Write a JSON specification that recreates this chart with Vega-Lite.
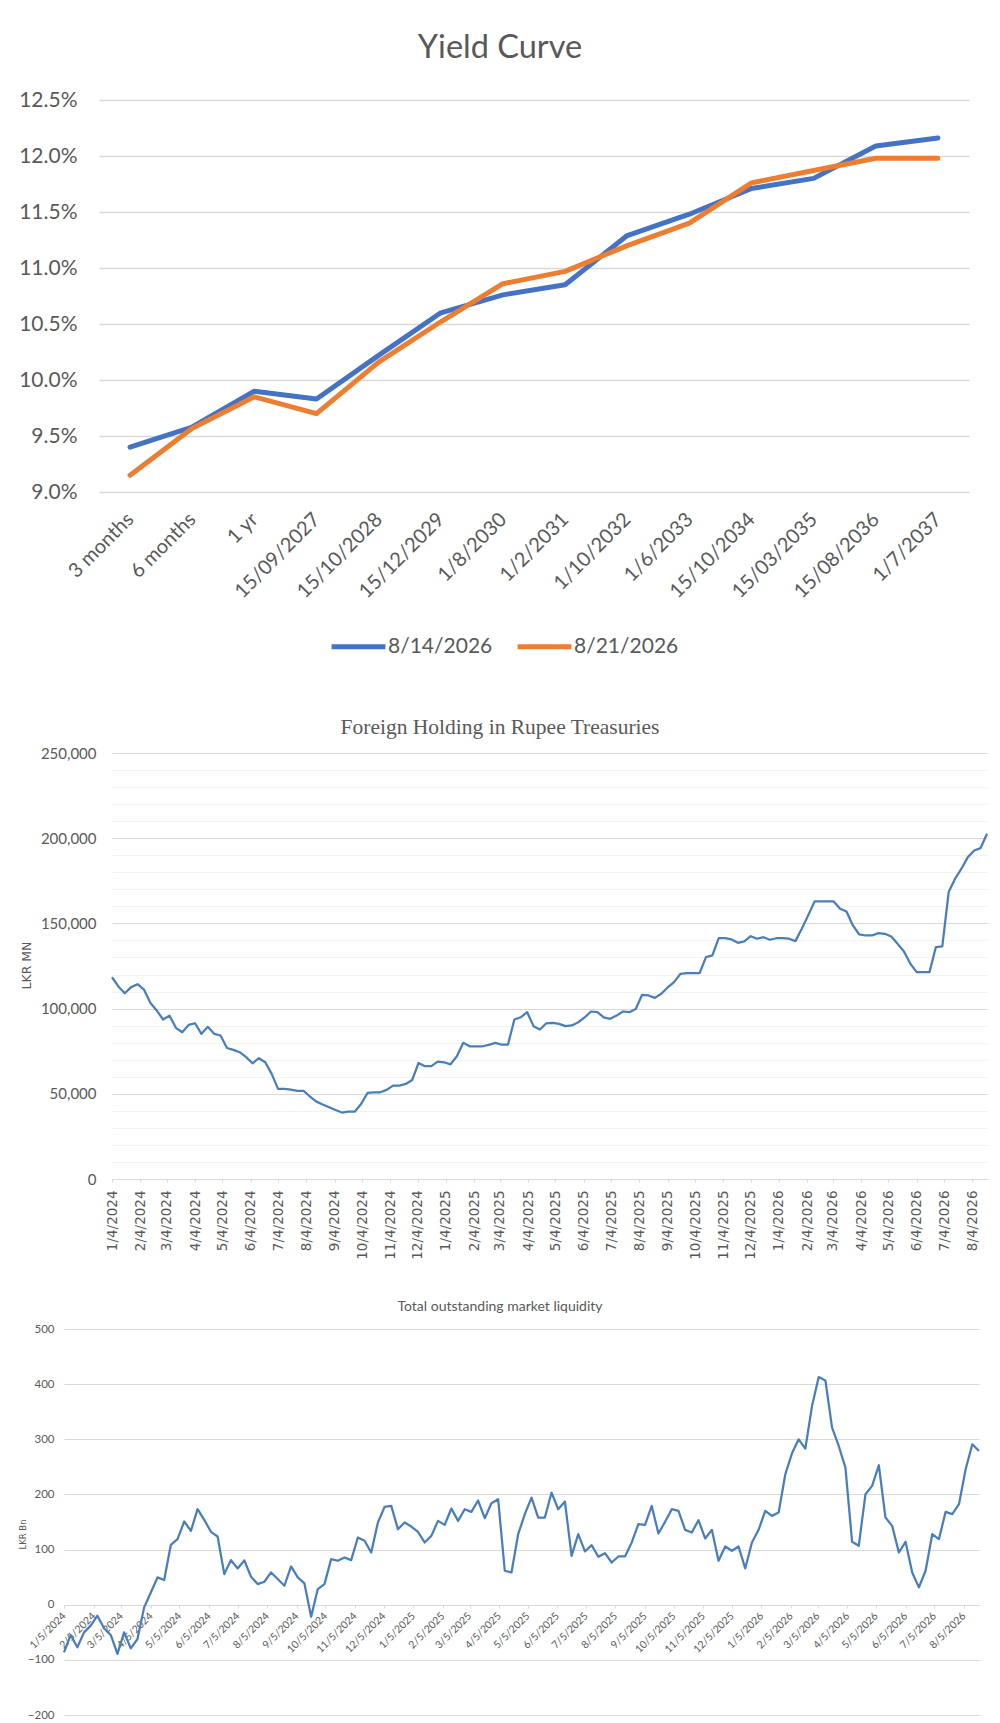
{
  "$schema": "https://vega.github.io/schema/vega-lite/v6.json",
  "background": "white",
  "padding": {"left": 0, "top": 31, "right": 0, "bottom": 0},
  "config": {
    "view": {"stroke": null},
    "axis": {"labelFont": "Lato", "titleFont": "Lato", "labelColor": "#595959", "titleColor": "#595959"},
    "title": {"font": "Lato", "color": "#595959", "fontWeight": "normal"},
    "legend": {"labelFont": "Lato", "labelColor": "#595959"}
  },
  "datasets": {
    "yield": [
      {"tenor": "3 months", "series": "8/14/2026", "rate": 9.40},
      {"tenor": "6 months", "series": "8/14/2026", "rate": 9.58},
      {"tenor": "1 yr", "series": "8/14/2026", "rate": 9.90},
      {"tenor": "15/09/2027", "series": "8/14/2026", "rate": 9.83},
      {"tenor": "15/10/2028", "series": "8/14/2026", "rate": 10.22},
      {"tenor": "15/12/2029", "series": "8/14/2026", "rate": 10.60},
      {"tenor": "1/8/2030", "series": "8/14/2026", "rate": 10.76},
      {"tenor": "1/2/2031", "series": "8/14/2026", "rate": 10.85},
      {"tenor": "1/10/2032", "series": "8/14/2026", "rate": 11.29},
      {"tenor": "1/6/2033", "series": "8/14/2026", "rate": 11.48},
      {"tenor": "15/10/2034", "series": "8/14/2026", "rate": 11.71},
      {"tenor": "15/03/2035", "series": "8/14/2026", "rate": 11.80},
      {"tenor": "15/08/2036", "series": "8/14/2026", "rate": 12.09},
      {"tenor": "1/7/2037", "series": "8/14/2026", "rate": 12.16},
      {"tenor": "3 months", "series": "8/21/2026", "rate": 9.15},
      {"tenor": "6 months", "series": "8/21/2026", "rate": 9.57},
      {"tenor": "1 yr", "series": "8/21/2026", "rate": 9.85},
      {"tenor": "15/09/2027", "series": "8/21/2026", "rate": 9.70},
      {"tenor": "15/10/2028", "series": "8/21/2026", "rate": 10.16},
      {"tenor": "15/12/2029", "series": "8/21/2026", "rate": 10.52},
      {"tenor": "1/8/2030", "series": "8/21/2026", "rate": 10.86},
      {"tenor": "1/2/2031", "series": "8/21/2026", "rate": 10.97},
      {"tenor": "1/10/2032", "series": "8/21/2026", "rate": 11.20},
      {"tenor": "1/6/2033", "series": "8/21/2026", "rate": 11.40},
      {"tenor": "15/10/2034", "series": "8/21/2026", "rate": 11.76},
      {"tenor": "15/03/2035", "series": "8/21/2026", "rate": 11.87},
      {"tenor": "15/08/2036", "series": "8/21/2026", "rate": 11.98},
      {"tenor": "1/7/2037", "series": "8/21/2026", "rate": 11.98}
    ],
    "foreign": [
      {"date": "2024-01-04", "value": 118400}, {"date": "2024-01-11", "value": 113000}, {"date": "2024-01-18", "value": 109000}, {"date": "2024-01-25", "value": 112600},
      {"date": "2024-02-01", "value": 114300}, {"date": "2024-02-08", "value": 111200}, {"date": "2024-02-15", "value": 103400}, {"date": "2024-02-22", "value": 98900}, {"date": "2024-02-29", "value": 93600},
      {"date": "2024-03-07", "value": 95900}, {"date": "2024-03-14", "value": 88700}, {"date": "2024-03-21", "value": 86100}, {"date": "2024-03-28", "value": 90400},
      {"date": "2024-04-04", "value": 91400}, {"date": "2024-04-11", "value": 85200}, {"date": "2024-04-18", "value": 89300}, {"date": "2024-04-25", "value": 85200},
      {"date": "2024-05-02", "value": 84200}, {"date": "2024-05-09", "value": 76900}, {"date": "2024-05-16", "value": 75800}, {"date": "2024-05-23", "value": 74400}, {"date": "2024-05-30", "value": 71500},
      {"date": "2024-06-06", "value": 67900}, {"date": "2024-06-13", "value": 70900}, {"date": "2024-06-20", "value": 68500}, {"date": "2024-06-27", "value": 61700},
      {"date": "2024-07-04", "value": 52900}, {"date": "2024-07-11", "value": 52900}, {"date": "2024-07-18", "value": 52500}, {"date": "2024-07-25", "value": 51700},
      {"date": "2024-08-01", "value": 51700}, {"date": "2024-08-08", "value": 48400}, {"date": "2024-08-15", "value": 45400}, {"date": "2024-08-22", "value": 43700}, {"date": "2024-08-29", "value": 42100},
      {"date": "2024-09-05", "value": 40500}, {"date": "2024-09-12", "value": 39000}, {"date": "2024-09-19", "value": 39500}, {"date": "2024-09-26", "value": 39500},
      {"date": "2024-10-03", "value": 44000}, {"date": "2024-10-10", "value": 50500}, {"date": "2024-10-17", "value": 50900}, {"date": "2024-10-24", "value": 50900}, {"date": "2024-10-31", "value": 52300},
      {"date": "2024-11-07", "value": 54800}, {"date": "2024-11-14", "value": 54800}, {"date": "2024-11-21", "value": 55800}, {"date": "2024-11-28", "value": 58100},
      {"date": "2024-12-05", "value": 68100}, {"date": "2024-12-12", "value": 66200}, {"date": "2024-12-19", "value": 66200}, {"date": "2024-12-26", "value": 68900},
      {"date": "2025-01-02", "value": 68500}, {"date": "2025-01-09", "value": 67300}, {"date": "2025-01-16", "value": 72000}, {"date": "2025-01-23", "value": 79900}, {"date": "2025-01-30", "value": 77900},
      {"date": "2025-02-06", "value": 77900}, {"date": "2025-02-13", "value": 77900}, {"date": "2025-02-20", "value": 78700}, {"date": "2025-02-27", "value": 79900},
      {"date": "2025-03-06", "value": 78900}, {"date": "2025-03-13", "value": 78900}, {"date": "2025-03-20", "value": 93600}, {"date": "2025-03-27", "value": 94900},
      {"date": "2025-04-03", "value": 97900}, {"date": "2025-04-10", "value": 89700}, {"date": "2025-04-17", "value": 87700}, {"date": "2025-04-24", "value": 91400},
      {"date": "2025-05-01", "value": 91600}, {"date": "2025-05-08", "value": 91000}, {"date": "2025-05-15", "value": 89700}, {"date": "2025-05-22", "value": 90100}, {"date": "2025-05-29", "value": 92000},
      {"date": "2025-06-05", "value": 94800}, {"date": "2025-06-12", "value": 98300}, {"date": "2025-06-19", "value": 97900}, {"date": "2025-06-26", "value": 94900},
      {"date": "2025-07-03", "value": 94000}, {"date": "2025-07-10", "value": 95900}, {"date": "2025-07-17", "value": 98300}, {"date": "2025-07-24", "value": 97900}, {"date": "2025-07-31", "value": 99800},
      {"date": "2025-08-07", "value": 108100}, {"date": "2025-08-14", "value": 107700}, {"date": "2025-08-21", "value": 106300}, {"date": "2025-08-28", "value": 108700},
      {"date": "2025-09-04", "value": 112400}, {"date": "2025-09-11", "value": 115500}, {"date": "2025-09-18", "value": 120400}, {"date": "2025-09-25", "value": 120800},
      {"date": "2025-10-02", "value": 120800}, {"date": "2025-10-09", "value": 120800}, {"date": "2025-10-16", "value": 130200}, {"date": "2025-10-23", "value": 131200}, {"date": "2025-10-30", "value": 141300},
      {"date": "2025-11-06", "value": 141300}, {"date": "2025-11-13", "value": 140600}, {"date": "2025-11-20", "value": 138600}, {"date": "2025-11-27", "value": 139400},
      {"date": "2025-12-04", "value": 142500}, {"date": "2025-12-11", "value": 141000}, {"date": "2025-12-18", "value": 141900}, {"date": "2025-12-25", "value": 140400},
      {"date": "2026-01-01", "value": 141300}, {"date": "2026-01-08", "value": 141300}, {"date": "2026-01-15", "value": 141000}, {"date": "2026-01-22", "value": 139600}, {"date": "2026-01-29", "value": 146800},
      {"date": "2026-02-05", "value": 154700}, {"date": "2026-02-12", "value": 162900}, {"date": "2026-02-19", "value": 162900}, {"date": "2026-02-26", "value": 162900},
      {"date": "2026-03-05", "value": 162900}, {"date": "2026-03-12", "value": 158600}, {"date": "2026-03-19", "value": 157000}, {"date": "2026-03-26", "value": 148800},
      {"date": "2026-04-02", "value": 143500}, {"date": "2026-04-09", "value": 142900}, {"date": "2026-04-16", "value": 142900}, {"date": "2026-04-23", "value": 144300}, {"date": "2026-04-30", "value": 143900},
      {"date": "2026-05-07", "value": 142300}, {"date": "2026-05-14", "value": 138000}, {"date": "2026-05-21", "value": 133500}, {"date": "2026-05-28", "value": 126300},
      {"date": "2026-06-04", "value": 121400}, {"date": "2026-06-11", "value": 121400}, {"date": "2026-06-18", "value": 121400}, {"date": "2026-06-25", "value": 136100},
      {"date": "2026-07-02", "value": 136500}, {"date": "2026-07-09", "value": 168400}, {"date": "2026-07-16", "value": 176200}, {"date": "2026-07-23", "value": 182100}, {"date": "2026-07-30", "value": 188900},
      {"date": "2026-08-06", "value": 192800}, {"date": "2026-08-13", "value": 194200}, {"date": "2026-08-20", "value": 202600}
    ],
    "liquidity": [
      {"date": "2024-01-05", "value": -86.3}, {"date": "2024-01-12", "value": -54.9}, {"date": "2024-01-19", "value": -77.2}, {"date": "2024-01-26", "value": -50.1},
      {"date": "2024-02-02", "value": -38.0}, {"date": "2024-02-09", "value": -19.9}, {"date": "2024-02-16", "value": -42.8}, {"date": "2024-02-23", "value": -54.9},
      {"date": "2024-03-01", "value": -89.3}, {"date": "2024-03-08", "value": -50.1}, {"date": "2024-03-15", "value": -79.1}, {"date": "2024-03-22", "value": -62.2}, {"date": "2024-03-29", "value": -4.8},
      {"date": "2024-04-05", "value": 22.3}, {"date": "2024-04-12", "value": 49.5}, {"date": "2024-04-19", "value": 44.7}, {"date": "2024-04-26", "value": 108.6},
      {"date": "2024-05-03", "value": 118.9}, {"date": "2024-05-10", "value": 150.9}, {"date": "2024-05-17", "value": 134.0}, {"date": "2024-05-24", "value": 173.2}, {"date": "2024-05-31", "value": 153.9},
      {"date": "2024-06-07", "value": 132.2}, {"date": "2024-06-14", "value": 123.7}, {"date": "2024-06-21", "value": 55.5}, {"date": "2024-06-28", "value": 80.9},
      {"date": "2024-07-05", "value": 65.8}, {"date": "2024-07-12", "value": 80.3}, {"date": "2024-07-19", "value": 50.7}, {"date": "2024-07-26", "value": 37.4},
      {"date": "2024-08-02", "value": 41.6}, {"date": "2024-08-09", "value": 58.5}, {"date": "2024-08-16", "value": 46.5}, {"date": "2024-08-23", "value": 34.4}, {"date": "2024-08-30", "value": 69.4},
      {"date": "2024-09-06", "value": 49.5}, {"date": "2024-09-13", "value": 38.6}, {"date": "2024-09-20", "value": -21.7}, {"date": "2024-09-27", "value": 28.4},
      {"date": "2024-10-04", "value": 37.4}, {"date": "2024-10-11", "value": 82.7}, {"date": "2024-10-18", "value": 79.7}, {"date": "2024-10-25", "value": 85.7},
      {"date": "2024-11-01", "value": 80.9}, {"date": "2024-11-08", "value": 121.9}, {"date": "2024-11-15", "value": 115.9}, {"date": "2024-11-22", "value": 94.7}, {"date": "2024-11-29", "value": 149.1},
      {"date": "2024-12-06", "value": 177.4}, {"date": "2024-12-13", "value": 179.2}, {"date": "2024-12-20", "value": 137.0}, {"date": "2024-12-27", "value": 149.1},
      {"date": "2025-01-03", "value": 141.8}, {"date": "2025-01-10", "value": 132.2}, {"date": "2025-01-17", "value": 112.9}, {"date": "2025-01-24", "value": 124.9}, {"date": "2025-01-31", "value": 152.1},
      {"date": "2025-02-07", "value": 144.8}, {"date": "2025-02-14", "value": 174.4}, {"date": "2025-02-21", "value": 152.1}, {"date": "2025-02-28", "value": 173.2},
      {"date": "2025-03-07", "value": 168.4}, {"date": "2025-03-14", "value": 188.9}, {"date": "2025-03-21", "value": 156.9}, {"date": "2025-03-28", "value": 184.1},
      {"date": "2025-04-04", "value": 191.3}, {"date": "2025-04-11", "value": 61.6}, {"date": "2025-04-18", "value": 58.5}, {"date": "2025-04-25", "value": 127.9},
      {"date": "2025-05-02", "value": 164.2}, {"date": "2025-05-09", "value": 194.3}, {"date": "2025-05-16", "value": 158.1}, {"date": "2025-05-23", "value": 158.1}, {"date": "2025-05-30", "value": 203.4},
      {"date": "2025-06-06", "value": 173.2}, {"date": "2025-06-13", "value": 187.1}, {"date": "2025-06-20", "value": 88.7}, {"date": "2025-06-27", "value": 127.9},
      {"date": "2025-07-04", "value": 96.6}, {"date": "2025-07-11", "value": 108.0}, {"date": "2025-07-18", "value": 86.9}, {"date": "2025-07-25", "value": 93.5},
      {"date": "2025-08-01", "value": 76.6}, {"date": "2025-08-08", "value": 87.5}, {"date": "2025-08-15", "value": 87.5}, {"date": "2025-08-22", "value": 112.9}, {"date": "2025-08-29", "value": 146.0},
      {"date": "2025-09-05", "value": 144.8}, {"date": "2025-09-12", "value": 179.2}, {"date": "2025-09-19", "value": 129.1}, {"date": "2025-09-26", "value": 150.3},
      {"date": "2025-10-03", "value": 173.2}, {"date": "2025-10-10", "value": 170.2}, {"date": "2025-10-17", "value": 135.8}, {"date": "2025-10-24", "value": 131.0}, {"date": "2025-10-31", "value": 153.3},
      {"date": "2025-11-07", "value": 120.1}, {"date": "2025-11-14", "value": 135.8}, {"date": "2025-11-21", "value": 79.7}, {"date": "2025-11-28", "value": 105.6},
      {"date": "2025-12-05", "value": 97.8}, {"date": "2025-12-12", "value": 105.6}, {"date": "2025-12-19", "value": 65.8}, {"date": "2025-12-26", "value": 112.9},
      {"date": "2026-01-02", "value": 135.8}, {"date": "2026-01-09", "value": 170.2}, {"date": "2026-01-16", "value": 161.1}, {"date": "2026-01-23", "value": 167.2}, {"date": "2026-01-30", "value": 236.6},
      {"date": "2026-02-06", "value": 274.6}, {"date": "2026-02-13", "value": 299.9}, {"date": "2026-02-20", "value": 283.0}, {"date": "2026-02-27", "value": 360.3},
      {"date": "2026-03-06", "value": 412.8}, {"date": "2026-03-13", "value": 406.8}, {"date": "2026-03-20", "value": 321.1}, {"date": "2026-03-27", "value": 287.9},
      {"date": "2026-04-03", "value": 248.6}, {"date": "2026-04-10", "value": 114.1}, {"date": "2026-04-17", "value": 106.8}, {"date": "2026-04-24", "value": 200.4},
      {"date": "2026-05-01", "value": 215.5}, {"date": "2026-05-08", "value": 252.9}, {"date": "2026-05-15", "value": 158.1}, {"date": "2026-05-22", "value": 143.0}, {"date": "2026-05-29", "value": 94.7},
      {"date": "2026-06-05", "value": 114.1}, {"date": "2026-06-12", "value": 58.5}, {"date": "2026-06-19", "value": 31.4}, {"date": "2026-06-26", "value": 61.6},
      {"date": "2026-07-03", "value": 127.9}, {"date": "2026-07-10", "value": 118.9}, {"date": "2026-07-17", "value": 168.4}, {"date": "2026-07-24", "value": 164.2}, {"date": "2026-07-31", "value": 182.3},
      {"date": "2026-08-07", "value": 245.6}, {"date": "2026-08-14", "value": 290.9}, {"date": "2026-08-21", "value": 278.8}
    ]
  },
  "vconcat": [
    {
      "spacing": 0,
      "hconcat": [
        {"width": 1, "height": 1, "data": {"values": []}, "mark": "point", "encoding": {}},
        {
          "width": 870,
          "height": 392,
          "data": {"name": "yield"},
          "title": {"text": "Yield Curve", "fontSize": 32.5, "offset": 25, "frame": "group", "dx": -34},
          "mark": {"type": "line", "strokeWidth": 5, "strokeCap": "round", "strokeJoin": "round"},
          "encoding": {
            "x": {
              "field": "tenor", "type": "nominal",
              "sort": ["3 months", "6 months", "1 yr", "15/09/2027", "15/10/2028", "15/12/2029", "1/8/2030", "1/2/2031", "1/10/2032", "1/6/2033", "15/10/2034", "15/03/2035", "15/08/2036", "1/7/2037"],
              "scale": {"type": "point", "padding": 0.5},
              "axis": {"title": null, "labelAngle": -45, "labelAlign": "right", "labelBaseline": "middle", "labelFontSize": 20, "labelPadding": 24, "domain": false, "ticks": false, "grid": false, "labelOverlap": false, "minExtent": 184, "maxExtent": 184}
            },
            "y": {
              "field": "rate", "type": "quantitative",
              "scale": {"domain": [9, 12.5], "nice": false, "zero": false},
              "axis": {"title": null, "values": [9, 9.5, 10, 10.5, 11, 11.5, 12, 12.5], "labelExpr": "format(datum.value, '.1f') + '%'", "labelFontSize": 21, "labelPadding": 22, "domain": false, "ticks": false, "gridColor": "#D9D9D9", "gridWidth": 1.5, "minExtent": 98, "maxExtent": 98}
            },
            "color": {
              "field": "series", "type": "nominal",
              "scale": {"domain": ["8/14/2026", "8/21/2026"], "range": ["#4472C4", "#ED7D31"]},
              "legend": {"title": null, "orient": "none", "legendX": 329, "legendY": 517, "direction": "horizontal", "padding": 0, "symbolType": "stroke", "symbolSize": 2900, "symbolStrokeWidth": 5, "labelFontSize": 21, "labelOffset": 0, "columnPadding": 14}
            }
          }
        }
      ]
    },
    {
      "spacing": 0,
      "hconcat": [
        {"width": 1, "height": 1, "data": {"values": []}, "mark": "point", "encoding": {}},
        {
          "width": 875,
          "height": 426,
          "data": {"name": "foreign"},
          "title": {"text": "Foreign Holding in Rupee Treasuries", "font": "Liberation Serif", "fontSize": 21.5, "offset": 8, "frame": "group", "dx": -49.5},
          "mark": {"type": "line", "strokeWidth": 2.25, "color": "#4A7EBB", "strokeJoin": "round"},
          "encoding": {
            "x": {
              "field": "date", "type": "temporal",
              "scale": {"type": "utc", "nice": false, "domain": [{"year": 2024, "month": 1, "date": 4, "utc": true}, {"year": 2026, "month": 8, "date": 20, "utc": true}]},
              "axis": {
                "title": null,
                "values": [
                  {"year": 2024, "month": 1, "date": 4, "utc": true}, {"year": 2024, "month": 2, "date": 4, "utc": true}, {"year": 2024, "month": 3, "date": 4, "utc": true}, {"year": 2024, "month": 4, "date": 4, "utc": true},
                  {"year": 2024, "month": 5, "date": 4, "utc": true}, {"year": 2024, "month": 6, "date": 4, "utc": true}, {"year": 2024, "month": 7, "date": 4, "utc": true}, {"year": 2024, "month": 8, "date": 4, "utc": true},
                  {"year": 2024, "month": 9, "date": 4, "utc": true}, {"year": 2024, "month": 10, "date": 4, "utc": true}, {"year": 2024, "month": 11, "date": 4, "utc": true}, {"year": 2024, "month": 12, "date": 4, "utc": true},
                  {"year": 2025, "month": 1, "date": 4, "utc": true}, {"year": 2025, "month": 2, "date": 4, "utc": true}, {"year": 2025, "month": 3, "date": 4, "utc": true}, {"year": 2025, "month": 4, "date": 4, "utc": true},
                  {"year": 2025, "month": 5, "date": 4, "utc": true}, {"year": 2025, "month": 6, "date": 4, "utc": true}, {"year": 2025, "month": 7, "date": 4, "utc": true}, {"year": 2025, "month": 8, "date": 4, "utc": true},
                  {"year": 2025, "month": 9, "date": 4, "utc": true}, {"year": 2025, "month": 10, "date": 4, "utc": true}, {"year": 2025, "month": 11, "date": 4, "utc": true}, {"year": 2025, "month": 12, "date": 4, "utc": true},
                  {"year": 2026, "month": 1, "date": 4, "utc": true}, {"year": 2026, "month": 2, "date": 4, "utc": true}, {"year": 2026, "month": 3, "date": 4, "utc": true}, {"year": 2026, "month": 4, "date": 4, "utc": true},
                  {"year": 2026, "month": 5, "date": 4, "utc": true}, {"year": 2026, "month": 6, "date": 4, "utc": true}, {"year": 2026, "month": 7, "date": 4, "utc": true}, {"year": 2026, "month": 8, "date": 4, "utc": true}
                ],
                "labelExpr": "utcFormat(datum.value, '%-m/%-d/%Y')",
                "labelAngle": -90, "labelAlign": "right", "labelBaseline": "middle",
                "labelFont": "DejaVu Sans", "labelFontSize": 13.5, "labelPadding": 8,
                "domainColor": "#D9D9D9", "tickColor": "#D9D9D9", "tickSize": 3,
                "grid": false, "labelOverlap": false, "labelFlush": false, "labelBound": false,
                "minExtent": 81, "maxExtent": 81
              }
            },
            "y": {
              "field": "value", "type": "quantitative",
              "scale": {"domain": [0, 250000], "nice": false},
              "axis": {
                "title": "LKR MN", "titleFont": "DejaVu Sans", "titleFontSize": 12.5, "titleFontWeight": "normal",
                "titleX": -86, "titleY": 212, "titleAngle": -90, "titleAlign": "center", "titleBaseline": "middle",
                "values": [0, 10000, 20000, 30000, 40000, 50000, 60000, 70000, 80000, 90000, 100000, 110000, 120000, 130000, 140000, 150000, 160000, 170000, 180000, 190000, 200000, 210000, 220000, 230000, 240000, 250000],
                "labelExpr": "datum.value % 50000 === 0 ? format(datum.value, ',') : ''",
                "labelFontSize": 15, "labelPadding": 16, "domain": false, "ticks": false,
                "gridColor": {"condition": {"test": "datum.value % 50000 === 0", "value": "#D9D9D9"}, "value": "#F2F2F2"},
                "minExtent": 111, "maxExtent": 111
              }
            }
          }
        }
      ]
    },
    {
      "spacing": 0,
      "hconcat": [
        {"width": 1, "height": 1, "data": {"values": []}, "mark": "point", "encoding": {}},
        {
          "width": 915,
          "height": 386,
          "data": {"name": "liquidity"},
          "title": {"text": "Total outstanding market liquidity", "fontSize": 14, "offset": 9, "frame": "group", "dx": -21.5},
          "mark": {"type": "line", "strokeWidth": 2.25, "color": "#4A7EBB", "strokeJoin": "round"},
          "encoding": {
            "x": {
              "field": "date", "type": "temporal",
              "scale": {"type": "utc", "nice": false, "domain": [{"year": 2024, "month": 1, "date": 5, "utc": true}, {"year": 2026, "month": 8, "date": 21, "utc": true}]},
              "axis": {
                "title": null,
                "values": [
                  {"year": 2024, "month": 1, "date": 5, "utc": true}, {"year": 2024, "month": 2, "date": 5, "utc": true}, {"year": 2024, "month": 3, "date": 5, "utc": true}, {"year": 2024, "month": 4, "date": 5, "utc": true},
                  {"year": 2024, "month": 5, "date": 5, "utc": true}, {"year": 2024, "month": 6, "date": 5, "utc": true}, {"year": 2024, "month": 7, "date": 5, "utc": true}, {"year": 2024, "month": 8, "date": 5, "utc": true},
                  {"year": 2024, "month": 9, "date": 5, "utc": true}, {"year": 2024, "month": 10, "date": 5, "utc": true}, {"year": 2024, "month": 11, "date": 5, "utc": true}, {"year": 2024, "month": 12, "date": 5, "utc": true},
                  {"year": 2025, "month": 1, "date": 5, "utc": true}, {"year": 2025, "month": 2, "date": 5, "utc": true}, {"year": 2025, "month": 3, "date": 5, "utc": true}, {"year": 2025, "month": 4, "date": 5, "utc": true},
                  {"year": 2025, "month": 5, "date": 5, "utc": true}, {"year": 2025, "month": 6, "date": 5, "utc": true}, {"year": 2025, "month": 7, "date": 5, "utc": true}, {"year": 2025, "month": 8, "date": 5, "utc": true},
                  {"year": 2025, "month": 9, "date": 5, "utc": true}, {"year": 2025, "month": 10, "date": 5, "utc": true}, {"year": 2025, "month": 11, "date": 5, "utc": true}, {"year": 2025, "month": 12, "date": 5, "utc": true},
                  {"year": 2026, "month": 1, "date": 5, "utc": true}, {"year": 2026, "month": 2, "date": 5, "utc": true}, {"year": 2026, "month": 3, "date": 5, "utc": true}, {"year": 2026, "month": 4, "date": 5, "utc": true},
                  {"year": 2026, "month": 5, "date": 5, "utc": true}, {"year": 2026, "month": 6, "date": 5, "utc": true}, {"year": 2026, "month": 7, "date": 5, "utc": true}, {"year": 2026, "month": 8, "date": 5, "utc": true}
                ],
                "labelExpr": "utcFormat(datum.value, '%-m/%-d/%Y')",
                "labelAngle": -45, "labelAlign": "right", "labelBaseline": "middle",
                "labelFontSize": 10.5, "labelPadding": 6, "offset": -110,
                "domainColor": "#D9D9D9", "tickColor": "#D9D9D9", "tickSize": 3,
                "grid": false, "labelOverlap": false, "labelFlush": false, "labelBound": false
              }
            },
            "y": {
              "field": "value", "type": "quantitative",
              "scale": {"domain": [-200, 500], "nice": false, "zero": false},
              "axis": {
                "title": "LKR Bn", "titleFont": "DejaVu Sans", "titleFontSize": 8.5, "titleFontWeight": "normal",
                "titleX": -42, "titleY": 205, "titleAngle": -90, "titleAlign": "center", "titleBaseline": "middle",
                "values": [-200, -100, 0, 100, 200, 300, 400, 500],
                "labelFontSize": 11.5, "labelPadding": 10, "domain": false, "ticks": false,
                "gridColor": "#D9D9D9", "minExtent": 63, "maxExtent": 63
              }
            }
          }
        }
      ]
    }
  ],
  "spacing": 40,
  "resolve": {"scale": {"x": "independent", "y": "independent", "color": "independent"}}
}
